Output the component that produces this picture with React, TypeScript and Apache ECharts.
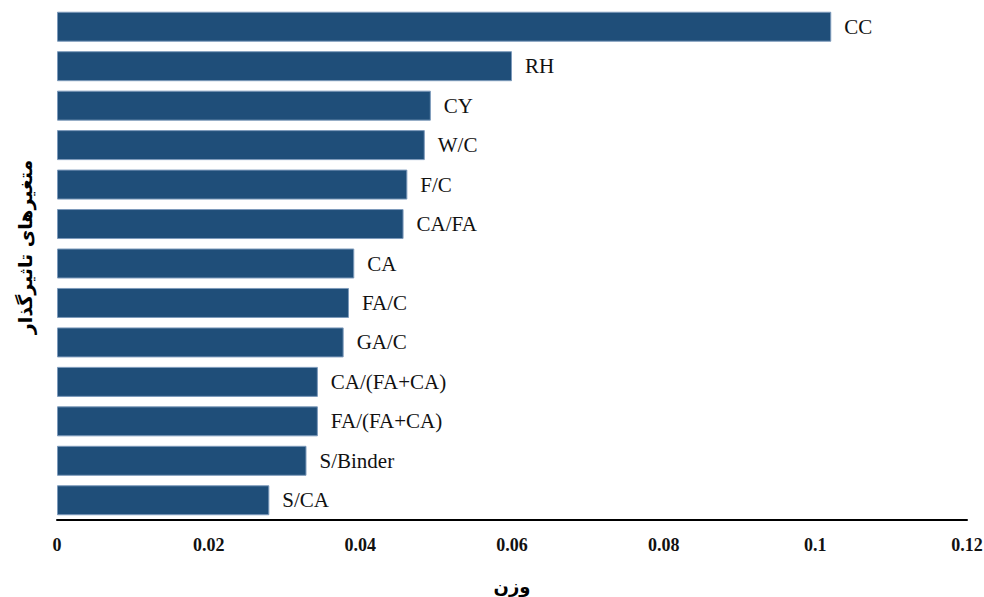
import React, { useEffect, useRef } from "react";
import * as echarts from "echarts";

const categories = [
  "CC", "RH", "CY", "W/C", "F/C", "CA/FA", "CA", "FA/C", "GA/C",
  "CA/(FA+CA)", "FA/(FA+CA)", "S/Binder", "S/CA",
];
const weights = [
  0.1021, 0.06, 0.0493, 0.0485, 0.0462, 0.0457, 0.0392, 0.0385, 0.0378,
  0.0344, 0.0344, 0.0329, 0.028,
];
const xTicks = [0, 0.02, 0.04, 0.06, 0.08, 0.1, 0.12];
const xName = "وزن";
const yName = "متغیرهای تاثیرگذار";

export default function App() {
  const ref = useRef<HTMLDivElement>(null);
  useEffect(() => {
    if (!ref.current) return;
    const chart = echarts.init(ref.current, undefined, { renderer: "svg" });
    chart.setOption({
      animation: false,
      backgroundColor: "#ffffff",
      grid: {
        left: 57,
        right: 17,
        top: 7,
        bottom: 77,
        containLabel: false,
        outerBoundsMode: "none",
      },
      graphic: [
        {
          type: "text",
          x: 25,
          y: 247,
          rotation: Math.PI / 2,
          style: {
            text: yName,
            fontFamily: "DejaVu Sans",
            fontWeight: "bold",
            fontSize: 19,
            fill: "#000",
            align: "center",
            verticalAlign: "middle",
          },
        },
      ],
      xAxis: {
        type: "value",
        min: 0,
        max: 0.12,
        interval: 0.02,
        name: xName,
        nameLocation: "middle",
        nameGap: 57,
        nameTextStyle: {
          fontFamily: "DejaVu Sans",
          fontWeight: "bold",
          fontSize: 18,
          color: "#000",
        },
        axisLine: { show: true, lineStyle: { color: "#000", width: 2 } },
        axisTick: { show: false },
        splitLine: { show: false },
        axisLabel: {
          margin: 16,
          fontFamily: "Liberation Serif",
          fontWeight: "bold",
          fontSize: 18,
          color: "#111",
          formatter: (v: number) => {
            const t = xTicks.find((x) => Math.abs(x - v) < 1e-9);
            return t === undefined ? "" : String(t);
          },
        },
      },
      yAxis: {
        type: "category",
        data: categories,
        inverse: true,
        axisLine: { show: false },
        axisTick: { show: false },
        axisLabel: { show: false },
        splitLine: { show: false },
      },
      series: [
        {
          type: "bar",
          data: weights,
          barCategoryGap: "24%",
          itemStyle: {
            color: "#1F4E79",
            borderColor: "#7d9abb",
            borderWidth: 1,
          },
          label: {
            show: true,
            position: "right",
            distance: 13,
            formatter: (p: any) => categories[p.dataIndex],
            fontFamily: "Liberation Serif",
            fontSize: 21,
            color: "#111",
          },
        },
      ],
    });
    return () => chart.dispose();
  }, []);
  return (
    <div
      ref={ref}
      style={{ position: "absolute", left: 0, top: 0, width: 984, height: 597 }}
    />
  );
}
